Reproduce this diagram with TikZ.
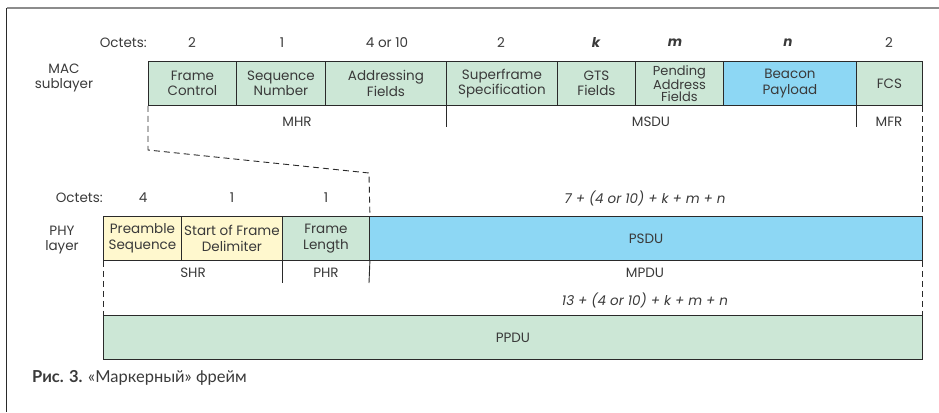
\documentclass[tikz,border=0pt]{standalone}
\usepackage{fontspec}
\setmainfont{Poppins}
\newfontfamily\capfont{Lato}
\definecolor{gfill}{HTML}{CCE7D6}
\definecolor{bfill}{HTML}{8DD7F4}
\definecolor{yfill}{HTML}{FFF8CE}
\definecolor{txt}{HTML}{3A3A3A}
\definecolor{lcol}{HTML}{2A2A2A}
\definecolor{topgray}{HTML}{8C8C8C}
\tikzset{
  fld/.style={draw=lcol, line width=0.9pt, inner sep=0pt, align=center, text=txt,
    font=\fontsize{13.5}{15.5}\selectfont, anchor=north west, minimum height=44pt},
  lbl/.style={text=txt, font=\fontsize{13.5}{15.5}\selectfont, inner sep=0pt, align=center},
  ital/.style={text=txt, font=\fontsize{13.5}{15.5}\selectfont\itshape, inner sep=0pt},
  dsh/.style={draw=lcol, line width=0.9pt, dash pattern=on 6pt off 4pt},
  sep/.style={draw=lcol, line width=0.9pt}
}
\begin{document}
\begin{tikzpicture}[x=1pt,y=-1pt]
\useasboundingbox (0,0) rectangle (939,412);
% frame
\coordinate (tl) at (6.5,8.5);
\coordinate (tr) at (939,8.5);
\coordinate (bl) at (6.5,412);
\draw[topgray, line width=2pt] (tl) -- (tr);
\draw[lcol, line width=1.5pt] (tl) -- (bl);

% MAC row
\node[lbl] (maclbl) at (64,78) {MAC\\sublayer};
\node[lbl, anchor=east] (oct1) at (147,43) {Octets:};
\node[fld, fill=gfill, minimum width=88pt] (fc) at (148,61) {Frame\\Control};
\node[fld, fill=gfill, minimum width=89pt] (sn) at (236,61) {Sequence\\Number};
\node[fld, fill=gfill, minimum width=121pt] (af) at (325,61) {Addressing\\Fields};
\node[fld, fill=gfill, minimum width=111pt] (ss) at (446,61) {Superframe\\Specification};
\node[fld, fill=gfill, minimum width=78pt] (gts) at (557,61) {GTS\\Fields};
\node[fld, fill=gfill, minimum width=88pt, font=\fontsize{13}{12.5}\selectfont] (paf) at (635,61) {Pending\\Address\\Fields};
\node[fld, fill=bfill, minimum width=133pt] (bp) at (723,61) {Beacon\\Payload};
\node[fld, fill=gfill, minimum width=66pt] (fcs) at (856,61) {FCS};

\node[lbl] (o1) at (192,43) {2};
\node[lbl] (o2) at (282,43) {1};
\node[lbl] (o3) at (387,43) {4 or 10};
\node[lbl] (o4) at (501,43) {2};
\node[ital] (o5) at (596,43) {\bfseries k};
\node[ital] (o6) at (675,43) {\bfseries m};
\node[ital] (o7) at (788,43) {\bfseries n};
\node[lbl] (o8) at (889,43) {2};

\node[lbl] (mhr) at (297,122) {MHR};
\node[lbl] (msdu) at (651,122) {MSDU};
\node[lbl] (mfr) at (889,122) {MFR};
\coordinate (d1) at (446,127);
\coordinate (d2) at (856,127);
\draw[sep] (ss.south west) -- (d1);
\draw[sep] (fcs.south west) -- (d2);

% PHY row
\node[lbl] (phylbl) at (62,240) {PHY\\layer};
\node[lbl, anchor=east] (oct2) at (103,198) {Octets:};
\node[lbl] (p1) at (143,198) {4};
\node[lbl] (p2) at (232,198) {1};
\node[lbl] (p3) at (326,198) {1};
\node[ital] (p4) at (645,198) {7 + (4 or 10) + k + m + n};

\node[fld, fill=yfill, minimum width=78pt] (pre) at (103,216) {Preamble\\Sequence};
\node[fld, fill=yfill, minimum width=101pt] (sfd) at (181,216) {Start of Frame\\Delimiter};
\node[fld, fill=gfill, minimum width=87pt] (fl) at (282,216) {Frame\\Length};
\node[fld, fill=bfill, minimum width=553pt] (psdu) at (369,216) {PSDU};

\node[lbl] (shr) at (193,273) {SHR};
\node[lbl] (phr) at (326,273) {PHR};
\node[lbl] (mpdu) at (645,273) {MPDU};
\coordinate (d3) at (282,283);
\coordinate (d4) at (369,283);
\draw[sep] (fl.south west) -- (d3);
\draw[sep] (fl.south east) -- (d4);

\node[ital] (tot) at (645,300) {13 + (4 or 10) + k + m + n};
\node[fld, fill=gfill, minimum width=819pt] (ppdu) at (103,315) {PPDU};

% dashed connectors
\coordinate (k1) at (148,150);
\coordinate (k2) at (369,173);
\draw[dsh] (fc.south west) -- (k1) -- (k2) -- (fl.north east);
\draw[dsh] (fcs.south east) -- (psdu.north east);
\draw[dsh] (psdu.south east) -- (ppdu.north east);
\draw[dsh] (pre.south west) -- (ppdu.north west);

% caption
\node[anchor=west, inner sep=0pt, text=txt, font=\capfont\fontsize{16.5}{19}\selectfont] (cap) at (32,378)
  {{\bfseries Рис. 3.} «Маркерный» фрейм};
\end{tikzpicture}
\end{document}
